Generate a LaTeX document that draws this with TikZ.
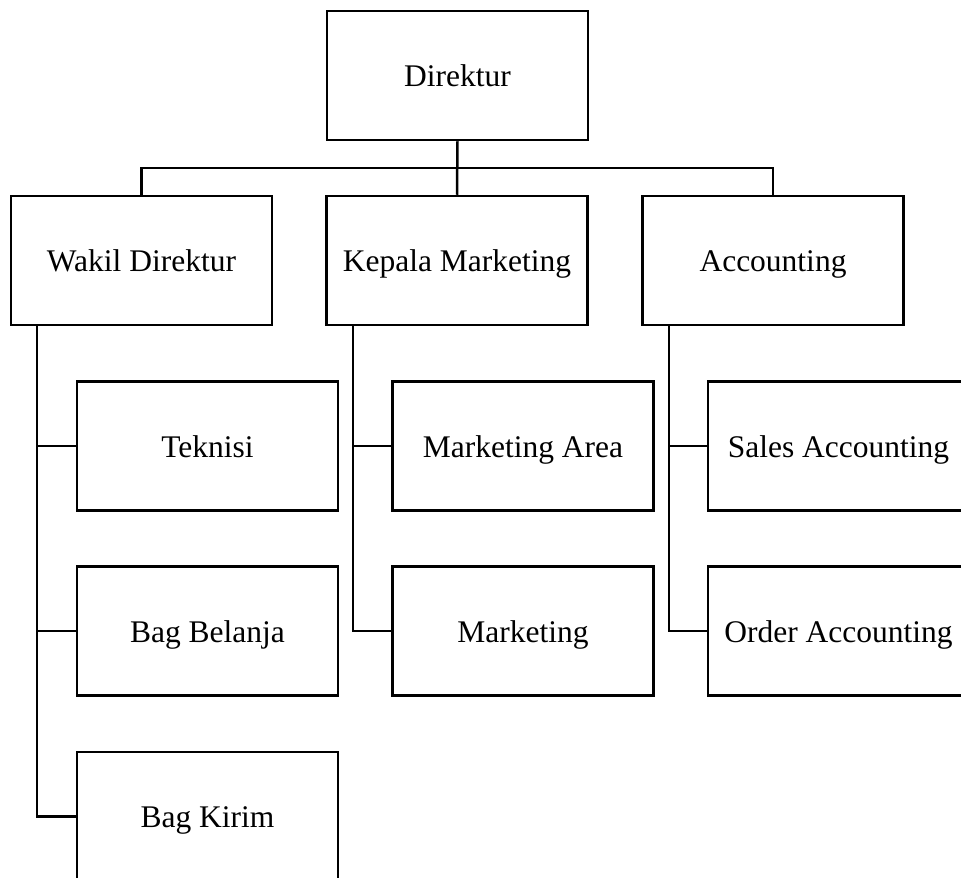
\documentclass[tikz,border=0pt]{standalone}
\usepackage{fontspec}
\setmainfont{Liberation Serif}
\begin{document}
\begin{tikzpicture}[x=1pt,y=-1pt,
  orgbox/.style={draw,line width=2.5pt,minimum width=261pt,minimum height=129pt,inner sep=0pt,
    text height=30pt,text depth=8pt,
    font=\fontsize{31.5}{36}\selectfont},
  link/.style={line width=2.5pt}]
\useasboundingbox (0,0) rectangle (961,878);
\clip (0,0) rectangle (961,878);
\node[orgbox] (dir) at (457.5,75.5) {Direktur};
\node[orgbox] (wak) at (141.5,260.5) {Wakil Direktur};
\node[orgbox] (kep) at (457,260.5) {Kepala Marketing};
\node[orgbox] (acc) at (773,260.5) {Accounting};
\node[orgbox] (tek) at (207.5,446) {Teknisi};
\node[orgbox] (bel) at (207.5,631) {Bag Belanja};
\node[orgbox] (kir) at (207.5,816.5) {Bag Kirim};
\node[orgbox] (mka) at (523,446) {Marketing Area};
\node[orgbox] (mkt) at (523,631) {Marketing};
\node[orgbox] (sal) at (838.5,446) {Sales Accounting};
\node[orgbox] (ord) at (838.5,631) {Order Accounting};
\coordinate (bus) at (457.5,168);
\draw[link] (dir.south) -- (kep.north);
\draw[link] (wak.north) |- (bus) -| (acc.north);
\coordinate (wv) at (37,0);
\coordinate (kv) at (353,0);
\coordinate (av) at (669,0);
\draw[link] (wak.south -| wv) |- (kir.west);
\draw[link] (wv |- tek.west) -- (tek.west);
\draw[link] (wv |- bel.west) -- (bel.west);
\draw[link] (kep.south -| kv) |- (mkt.west);
\draw[link] (kv |- mka.west) -- (mka.west);
\draw[link] (acc.south -| av) |- (ord.west);
\draw[link] (av |- sal.west) -- (sal.west);
\end{tikzpicture}
\end{document}
